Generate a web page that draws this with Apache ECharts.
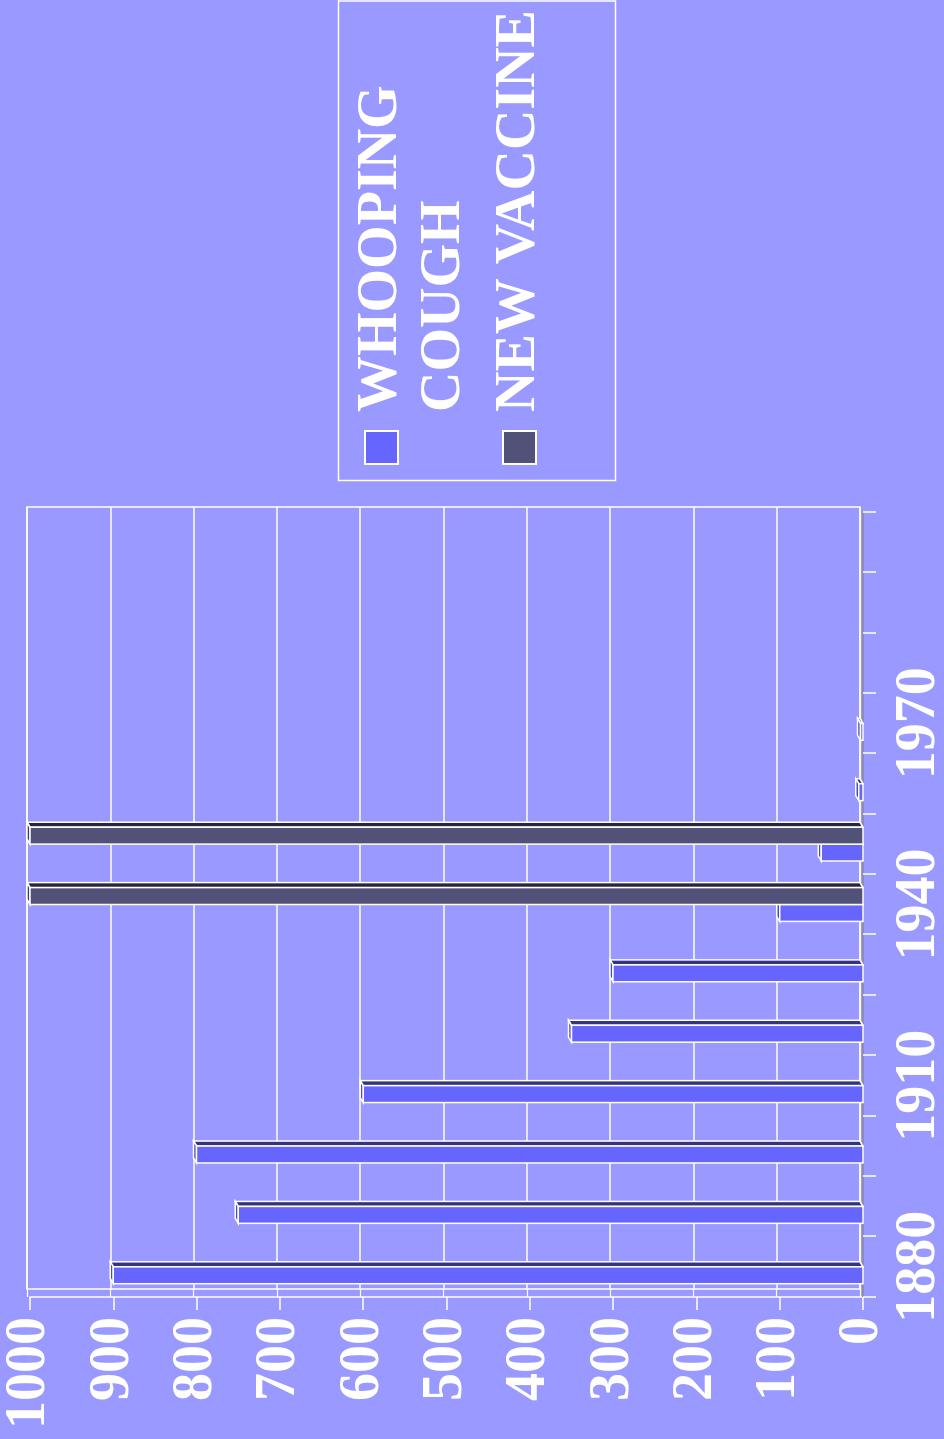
<!DOCTYPE html>
<html>
<head>
<meta charset="utf-8">
<script src="https://cdn.jsdelivr.net/npm/echarts@6/dist/echarts.min.js"></script>
<style>
    html, body { margin: 0; padding: 0; width: 944px; height: 1439px; overflow: hidden; background: #9999FF; }
    /* chart is drawn landscape and turned a quarter left, like the reference */
    #main {
        position: absolute; left: 0; top: 0;
        width: 1439px; height: 944px;
        transform-origin: 0 0;
        transform: translateY(1439px) rotate(-90deg);
    }
</style>
</head>
<body>
<div id="main"></div>
<script>
// data
var years = ['1880', '1890', '1900', '1910', '1920', '1930', '1940', '1950', '1960', '1970', '1980', '1990', '2000'];
var whoopingCough = [900, 750, 800, 600, 350, 300, 100, 50, 5, 3, 0, 0, 0];
var newVaccine = [0, 0, 0, 0, 0, 0, 1000, 1000, 0, 0, 0, 0, 0];
var seriesNames = ['WHOOPING COUGH', 'NEW VACCINE'];

var FONT = '"Liberation Serif", "Times New Roman", serif';

// 3D-ish bar: front face, dark side on the right, bevel on top
function bar3d(slot, face, side, top) {
    return function (params, api) {
        var cat = api.value(0), val = api.value(1);
        if (!val) return null;
        var c = api.coord([cat, val]);
        var b = api.coord([cat, 0]);
        var bw = api.size([1, 0])[0] * 0.28;
        var x0 = slot === 0 ? c[0] - bw : c[0];
        var x1 = x0 + bw;
        var dx = 5, dy = 3;
        return {
            type: 'group',
            children: [
                {
                    type: 'polygon',
                    shape: { points: [[x1, c[1]], [x1 + dx, c[1] - dy], [x1 + dx, b[1] - dy], [x1, b[1]]] },
                    style: { fill: side, stroke: '#fff', lineWidth: 1.5 }
                },
                {
                    type: 'polygon',
                    shape: { points: [[x0, c[1]], [x0 + dx, c[1] - dy], [x1 + dx, c[1] - dy], [x1, c[1]]] },
                    style: { fill: top, stroke: '#fff', lineWidth: 1.5 }
                },
                {
                    type: 'rect',
                    shape: { x: x0, y: c[1], width: bw, height: b[1] - c[1] },
                    style: { fill: face, stroke: '#fff', lineWidth: 1.5 }
                }
            ]
        };
    };
}

var myChart = echarts.init(document.getElementById('main'));

option = {
    backgroundColor: '#9999FF',
    animation: false,
    legend: {
        orient: 'vertical',
        left: 974,
        top: 287,
        padding: 0,
        itemGap: 12,
        itemWidth: 33,
        itemHeight: 33,
        icon: 'rect',
        itemStyle: { borderColor: '#fff', borderWidth: 2 },
        data: seriesNames,
        formatter: function (name) {
            // blank first line keeps the swatch level with "WHOOPING"
            return name === 'WHOOPING COUGH' ? ' \nWHOOPING\nCOUGH' : name;
        },
        textStyle: {
            color: '#fff',
            fontFamily: FONT,
            fontWeight: 'bold',
            fontSize: 56,
            lineHeight: 63,
            padding: [0, 0, 0, 14]
        }
    },
    graphic: [
        {
            type: 'rect',
            shape: { x: 958.5, y: 338.5, width: 479.5, height: 277 },
            style: { fill: 'none', stroke: '#fff', lineWidth: 1.5 }
        }
    ],
    grid: [
        // back wall
        { left: 150, right: 507, top: 27, bottom: 84, show: true, borderColor: '#fff', borderWidth: 1.5, outerBoundsMode: 'none' },
        // front
        { left: 142, right: 512, top: 30, bottom: 81, outerBoundsMode: 'none' }
    ],
    xAxis: [
        {
            gridIndex: 0,
            type: 'category',
            data: years,
            axisLine: { show: false },
            axisTick: { show: false },
            axisLabel: { show: false }
        },
        {
            gridIndex: 1,
            type: 'category',
            data: years,
            axisLine: { show: true, lineStyle: { color: '#8c8cb4', width: 2 } },
            axisTick: { show: true, interval: 0, length: 13, lineStyle: { color: '#fff', width: 1.5 } },
            axisLabel: {
                show: true,
                interval: function (i) { return i % 3 === 0 && i < 12; },
                margin: 29,
                color: '#fff',
                fontFamily: FONT,
                fontWeight: 'bold',
                fontSize: 56
            }
        }
    ],
    yAxis: [
        {
            gridIndex: 0,
            type: 'value',
            min: 0,
            max: 1000,
            interval: 100,
            axisLine: { show: false },
            axisTick: { show: true, length: 8, lineStyle: { color: '#fff', width: 1.2 } },
            axisLabel: { show: false },
            splitLine: { lineStyle: { color: '#fff', width: 1.5 } }
        },
        {
            gridIndex: 1,
            type: 'value',
            min: 0,
            max: 1000,
            interval: 100,
            axisLine: { show: true, lineStyle: { color: '#fff', width: 1.5 } },
            axisTick: { show: true, length: 13, lineStyle: { color: '#fff', width: 1.5 } },
            splitLine: { show: false },
            axisLabel: {
                margin: 20,
                color: '#fff',
                fontFamily: FONT,
                fontWeight: 'bold',
                fontSize: 56,
                formatter: function (v) { return String(v); }
            }
        }
    ],
    series: [
        {
            name: seriesNames[0],
            type: 'custom',
            xAxisIndex: 1,
            yAxisIndex: 1,
            itemStyle: { color: '#6666FF' },
            encode: { x: 0, y: 1 },
            renderItem: bar3d(0, '#6666FF', '#34347c', '#4c4cc0'),
            data: whoopingCough.map(function (v, i) { return [i, v]; })
        },
        {
            name: seriesNames[1],
            type: 'custom',
            xAxisIndex: 1,
            yAxisIndex: 1,
            itemStyle: { color: '#525279' },
            encode: { x: 0, y: 1 },
            renderItem: bar3d(1, '#525279', '#27273c', '#3c3c5c'),
            data: newVaccine.map(function (v, i) { return [i, v]; })
        }
    ]
};

myChart.setOption(option);
</script>
</body>
</html>
